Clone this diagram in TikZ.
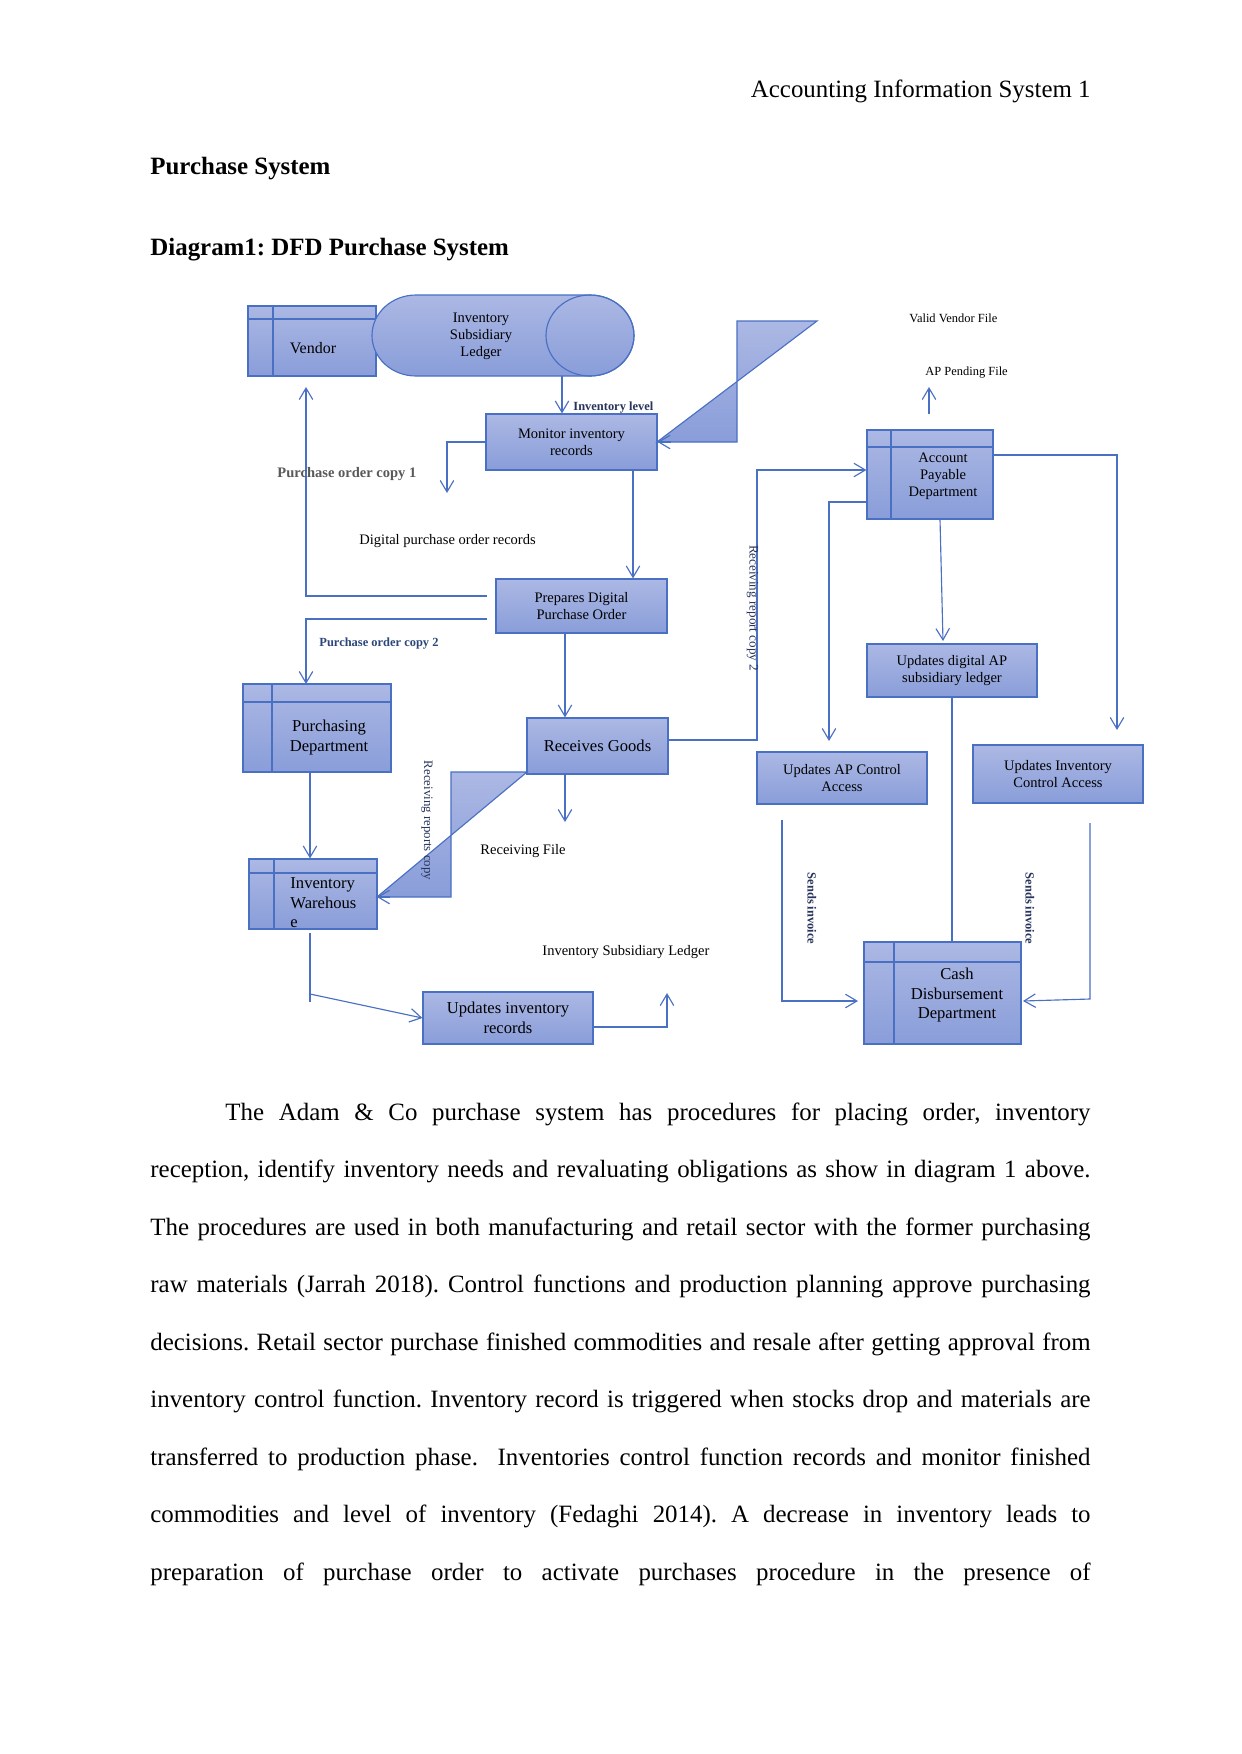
\documentclass[tikz,border=0pt]{standalone}
\usepackage{fontspec}
\setmainfont{Liberation Serif}
\usetikzlibrary{arrows.meta,calc}
\definecolor{ln}{RGB}{74,112,196}
\definecolor{bxtop}{RGB}{172,184,228}
\definecolor{bxbot}{RGB}{137,157,217}
\definecolor{navy}{RGB}{40,52,92}
\definecolor{navyb}{RGB}{44,70,122}
\definecolor{gry}{RGB}{89,89,89}
\begin{document}
\frenchspacing
\begin{tikzpicture}[x=0.16933mm,y=-0.16933mm,
  sz/.style 2 args={minimum width=#1*0.16933mm,minimum height=#2*0.16933mm},
  box/.style={draw=ln,line width=0.55pt,top color=bxtop,bottom color=bxbot,inner sep=0pt,align=center},
  store/.style 2 args={box,path picture={
      \draw[ln,line width=0.55pt]
        ($(path picture bounding box.north west)+(#1,0)$) -- ($(path picture bounding box.south west)+(#1,0)$)
        ($(path picture bounding box.north west)+(0,#2)$) -- ($(path picture bounding box.north east)+(0,#2)$);}},
  f8/.style={font=\fontsize{8}{9.4}\selectfont},
  f7/.style={font=\fontsize{7}{8.2}\selectfont},
  f6/.style={font=\fontsize{6}{7}\selectfont},
  txt/.style={inner sep=0pt,align=center},
  lbl/.style={inner sep=0pt,anchor=west},
  conn/.style={draw=ln,line width=0.55pt},
  arr/.style={conn,-{Straight Barb[length=5.5pt,width=6.5pt]}},
  tri/.style={draw=ln,line width=0.55pt,top color=bxtop,bottom color=bxbot},
  body/.style={font=\fontsize{12}{14}\selectfont,inner sep=0pt,anchor=base west},
]
\useasboundingbox[fill=white] (0,0) rectangle (1241,1754);

% header and headings
\node[font=\fontsize{12}{14}\selectfont,anchor=base east,inner sep=0pt] (hdr) at (1091,97) {Accounting Information System 1};
\node[font=\bfseries\fontsize{12}{14}\selectfont,anchor=base west,inner sep=0pt] (h1) at (150,174) {Purchase System};
\node[font=\bfseries\fontsize{12}{14}\selectfont,anchor=base west,inner sep=0pt] (h2) at (150,255) {Diagram1: DFD Purchase System};

% vendor
\node[store={25}{13},sz={128}{70}] (vendor) at (312,341) {};
\node[txt,font=\fontsize{7.7}{9}\selectfont] (vendort) at (313,348.5) {Vendor};

% inventory subsidiary ledger (horizontal cylinder)
\node[sz={262}{81}] (isl) at (503,335.5) {};
\draw[tri] (416,295) -- (590,295) arc[start angle=90,end angle=-90,x radius=7.451mm,y radius=6.858mm]
  -- (416,376) arc[start angle=270,end angle=90,x radius=7.451mm,y radius=6.858mm] -- cycle;
\draw[conn] (590,335.5) ellipse [x radius=7.451mm,y radius=6.858mm];
\node[txt,f7] (islt) at (481,336.5) {Inventory\\Subsidiary\\Ledger};

% process boxes
\node[box,f7,sz={171}{56}] (mon) at (571.5,442) {Monitor inventory\\records};
\node[box,f7,sz={171}{54}] (prep) at (581.5,606) {Prepares Digital\\Purchase Order};
\node[box,f8,sz={141}{56}] (rg) at (597.5,746) {Receives Goods};
\node[box,f8,sz={170}{52}] (uir) at (508,1018) {Updates inventory\\records};
\node[box,f7,sz={170}{53}] (udap) at (952,670.5) {Updates digital AP\\subsidiary ledger};
\node[box,f7,sz={170}{52}] (uapc) at (842,778) {Updates AP Control\\Access};
\node[box,f7,sz={170}{58}] (uica) at (1058,774) {Updates Inventory\\Control Access};

% stores / entities
\node[store={29}{18},sz={148}{88}] (pur) at (317,728) {};
\node[txt,f8] (purt) at (329,737.5) {Purchasing\\Department};
\node[store={25}{14},sz={128}{70}] (wh) at (313,894) {};
\node[inner sep=0pt,align=left,anchor=west,f8] (wht) at (290,903) {Inventory\\Warehous\\e};
\node[store={24}{17},sz={126}{89}] (ap) at (930,474.5) {};
\node[txt,f7] (apt) at (943,476) {Account\\Payable\\Department};
\node[store={30}{20},sz={157}{102}] (cash) at (942.5,993) {};
\node[txt,f8] (casht) at (957,995) {Cash\\Disbursement\\Department};

% bent-arrow shapes
\draw[tri] (737,321) -- (817,321) -- (657,442) -- (737,442) -- cycle;
\draw[arr] ($(mon.east)+(13,0)$) -- (mon.east);
\draw[tri] (451,772) -- (527,772) -- (377,897) -- (451,897) -- cycle;
\coordinate (t2) at (377,897);
\draw[arr] ($(t2)+(13,0)$) -- (t2);

% connectors
\coordinate (a1) at (562,376);
\draw[arr] (a1) -- (a1 |- mon.north);
\coordinate (b1) at (447,493);
\draw[arr] (mon.west) -| (b1);
\coordinate (c1) at (633,470);
\draw[arr] (c1) -- (c1 |- prep.north);
\coordinate (d1) at (487,596);
\coordinate (d2) at (306,387);
\draw[arr] (d1) -| (d2);
\coordinate (e1) at (487,619);
\coordinate (e2) at (306,684);
\draw[arr] (e1) -| (e2);
\coordinate (f1) at (565,633);
\draw[arr] (f1) -- (f1 |- rg.north);
\coordinate (g1) at (668,740);
\coordinate (g2) at (757,470);
\draw[arr] (g1) -| (g2) -- (g2 -| ap.west);
\coordinate (h1) at (867,502);
\coordinate (h2) at (829,741);
\draw[arr] (h1) -| (h2);
\coordinate (i1) at (940,519);
\coordinate (i2) at (943,641);
\draw[arr] (i1) -- (i2);
\coordinate (j1) at (993,455);
\coordinate (j2) at (1117,730);
\draw[arr] (j1) -| (j2);
\draw[conn] (udap.south) -- (udap.south |- cash.north);
\coordinate (l1) at (782,820);
\coordinate (l2) at (858,1001);
\draw[arr] (l1) |- (l2);
\coordinate (m1) at (1090,823);
\coordinate (m2) at (1090,999);
\coordinate (m3) at (1023,1001);
\draw[arr] (m1) -- (m2) -- (m3);
\coordinate (n1) at (310,772);
\draw[arr] (n1) -- (n1 |- wh.north);
\coordinate (o1) at (310,933);
\coordinate (o2) at (310,1002);
\coordinate (o3) at (310,994);
\draw[draw=ln,line width=1.1pt] (o1) -- (o2);
\draw[arr] (o3) -- (uir.west);
\coordinate (p1) at (593,1027);
\coordinate (p2) at (667,993);
\draw[arr] (p1) -| (p2);
\coordinate (q1) at (565,774);
\coordinate (q2) at (565,822);
\draw[arr] (q1) -- (q2);
\coordinate (r1) at (929,414);
\coordinate (r2) at (929,387);
\draw[arr] (r1) -- (r2);

% labels
\node[lbl,font=\bfseries\fontsize{6}{7}\selectfont,text=navy] (lil) at (573,408) {Inventory level};
\node[lbl,font=\bfseries\fontsize{7}{8}\selectfont,text=gry] (lpo1) at (277,474) {Purchase order copy 1};
\node[lbl,f7] (ldpo) at (359,541) {Digital purchase order records};
\node[lbl,font=\bfseries\fontsize{6}{7}\selectfont,text=navyb] (lpo2) at (319,644) {Purchase order copy 2};
\node[lbl,f6] (lvvf) at (909,318) {Valid Vendor File};
\node[lbl,f6] (lapf) at (925,373) {AP Pending File};
\node[inner sep=0pt,rotate=-90,font=\fontsize{6.3}{7}\selectfont,text=navy] (lrr2) at (752.5,608) {Receiving report copy 2};
\node[inner sep=0pt,rotate=-90,font=\fontsize{6.2}{7}\selectfont,text=navy] (lrrc) at (427,820.5) {Receiving reports copy};
\node[lbl,f7] (lrf) at (480,851) {Receiving File};
\node[lbl,f7] (lisl) at (542,952) {Inventory Subsidiary Ledger};
\node[inner sep=0pt,rotate=-90,font=\bfseries\fontsize{6}{7}\selectfont,text=navy] (lsi1) at (812,908.5) {Sends invoice};
\node[inner sep=0pt,rotate=-90,font=\bfseries\fontsize{6}{7}\selectfont,text=navy] (lsi2) at (1030,908.5) {Sends invoice};

% body text
\node[body] (t1) at (225,1120) {\makebox[146.5mm][s]{The Adam \& Co purchase system has procedures for placing order, inventory}};
\node[body] (t2) at (150,1177.5) {\makebox[159.2mm][s]{reception, identify inventory needs and revaluating obligations as show in diagram 1 above.}};
\node[body] (t3) at (150,1235) {\makebox[159.2mm][s]{The procedures are used in both manufacturing and retail sector with the former purchasing}};
\node[body] (t4) at (150,1292.5) {\makebox[159.2mm][s]{raw materials (Jarrah 2018). Control functions and production planning approve purchasing}};
\node[body] (t5) at (150,1350) {\makebox[159.2mm][s]{decisions. Retail sector purchase finished commodities and resale after getting approval from}};
\node[body] (t6) at (150,1407.5) {\makebox[159.2mm][s]{inventory control function. Inventory record is triggered when stocks drop and materials are}};
\node[body] (t7) at (150,1465) {\makebox[159.2mm][s]{transferred to production phase.\ \ Inventories control function records and monitor finished}};
\node[body] (t8) at (150,1522.5) {\makebox[159.2mm][s]{commodities and level of inventory (Fedaghi 2014). A decrease in inventory leads to}};
\node[body] (t9) at (150,1580) {\makebox[159.2mm][s]{preparation of purchase order to activate purchases procedure in the presence of}};
\end{tikzpicture}
\end{document}
